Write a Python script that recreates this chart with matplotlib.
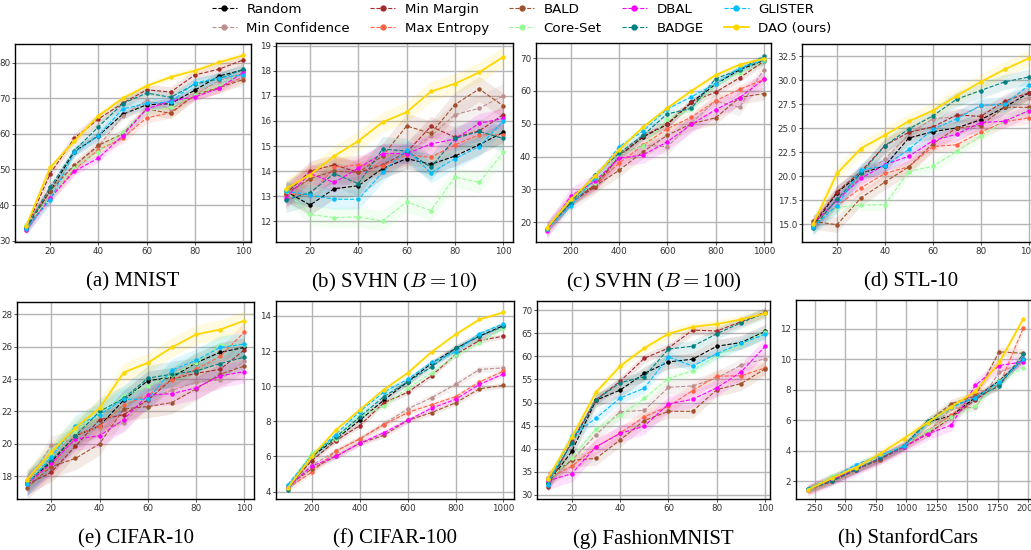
import numpy as np
import matplotlib.pyplot as plt

plt.rcParams['mathtext.fontset'] = 'cm'

methods = ['Random', 'Min Confidence', 'Min Margin', 'Max Entropy', 'BALD',
           'Core-Set', 'DBAL', 'BADGE', 'GLISTER', 'DAO (ours)']
colors = ['black', 'rosybrown', 'brown', 'tomato', 'sienna',
          'palegreen', 'magenta', 'teal', 'deepskyblue', 'gold']

x_small = [10, 20, 30, 40, 50, 60, 70, 80, 90, 100]
x_large = [100, 200, 300, 400, 500, 600, 700, 800, 900, 1000]
x_cars = [196, 392, 588, 784, 980, 1176, 1372, 1568, 1764, 1960]

# one row per method, same order as `methods`
mnist = [
    [33.5, 44, 55, 59.5, 65.5, 68.2, 68.5, 72.3, 76.3, 78],
    [34, 45, 51, 56.5, 65, 69.5, 67, 71, 75, 77],
    [33.5, 48.8, 58.8, 64.2, 68.6, 72.4, 71.8, 76.6, 78.2, 80.8],
    [33, 42, 50, 55.5, 58.8, 64.5, 66, 71, 73, 76],
    [33.8, 44, 51.2, 56.8, 60, 67, 65.8, 71, 73, 75.3],
    [34.5, 42, 50.5, 55, 60.5, 66.5, 67.5, 71, 73.5, 77.5],
    [33, 42, 49.5, 53.2, 59.5, 67, 69.3, 70.4, 72.8, 77.3],
    [33.5, 45, 55.3, 62, 68.5, 71.5, 70.3, 74, 75.5, 78.2],
    [33.2, 41.5, 54.8, 59.5, 67, 68.6, 69, 74.3, 75.8, 76.6],
    [34, 50.6, 58, 65.1, 70, 73.5, 76, 77.8, 80.1, 82.1],
]
mnist_std = [1.2, 1.2, 1.5, 1.5, 1.5, 1.0, 1.2, 1.5, 1.5, 1.0]

svhn10 = [
    [13.2, 12.65, 13.3, 13.42, 14.1, 14.5, 14.27, 14.6, 15.05, 15.55],
    [13.0, 13.7, 14.05, 14.05, 14.6, 14.7, 15.4, 16.25, 16.5, 17.0],
    [13.1, 14.0, 14.25, 13.95, 14.25, 14.75, 15.78, 15.35, 15.6, 16.25],
    [13.1, 13.05, 14.15, 14.25, 14.2, 14.65, 14.55, 15.05, 15.45, 15.45],
    [13.1, 13.7, 14.0, 13.95, 14.6, 15.8, 15.5, 16.65, 17.27, 16.6],
    [13.2, 12.28, 12.15, 12.18, 12.02, 12.78, 12.43, 13.77, 13.55, 14.75],
    [12.95, 13.9, 13.55, 14.12, 14.7, 14.7, 15.08, 15.28, 15.9, 16.1],
    [12.85, 13.15, 13.9, 13.5, 14.88, 14.8, 14.15, 15.3, 15.58, 15.3],
    [13.2, 13.05, 12.88, 12.88, 13.95, 14.85, 13.93, 14.5, 14.98, 16.0],
    [13.3, 13.86, 14.6, 15.2, 15.95, 16.35, 17.17, 17.48, 17.93, 18.55],
]
svhn10_std = [0.4, 0.5, 0.4, 0.4, 0.5, 0.4, 0.4, 0.5, 0.4, 0.4]

svhn100 = [
    [18, 26, 31.5, 40.2, 46, 49.8, 56.5, 62, 66.5, 69.2],
    [18, 26, 31, 40.5, 43.5, 43, 50.2, 57, 55, 66.5],
    [18, 26, 30.8, 40, 46.2, 50, 56.7, 59.6, 64, 69],
    [18, 26.5, 31.5, 38, 43.5, 48.5, 52, 57, 60.5, 63.5],
    [18, 27, 31, 35.8, 41.5, 46.5, 50, 51.8, 58, 59.2],
    [18, 26.5, 32, 40.5, 43.2, 51.5, 54.5, 62, 65.5, 69],
    [17.3, 28, 32.5, 39.5, 40.5, 44.5, 49.8, 54.3, 58, 63.5],
    [18, 26, 34.5, 41, 46.5, 53, 54.7, 63.7, 66.5, 70.5],
    [18, 25, 33.5, 43, 47.8, 54.5, 58.2, 62.2, 67, 69.3],
    [18.2, 27, 34, 42.1, 49, 54.8, 60, 64.8, 68, 69.8],
]
svhn100_std = [1.0, 2.5, 1.2, 1.5, 2.0, 1.2, 2.5, 1.0, 1.0, 0.8]

stl10 = [
    [14.8, 18.3, 20.3, 21.1, 24.0, 24.65, 25.05, 25.9, 27.2, 28.7],
    [15.2, 17.5, 20.0, 21.8, 24.4, 26.0, 26.2, 27.3, 27.6, 28.2],
    [15.0, 18.4, 20.5, 23.2, 24.6, 25.15, 26.4, 26.25, 27.85, 28.7],
    [14.9, 16.9, 18.8, 20.3, 21.0, 23.1, 23.3, 24.6, 25.7, 26.1],
    [15.3, 14.95, 17.75, 19.4, 21.0, 23.4, 25.05, 25.3, 27.2, 27.2],
    [15.0, 16.75, 17.0, 17.05, 20.5, 21.05, 22.6, 24.2, 25.75, 26.9],
    [15.0, 17.5, 19.8, 21.2, 22.1, 23.7, 24.4, 25.6, 25.75, 26.85],
    [14.65, 17.6, 20.3, 23.2, 24.95, 26.3, 28.05, 28.95, 29.85, 30.35],
    [14.7, 16.95, 20.65, 21.1, 22.8, 24.9, 26.0, 27.4, 27.5, 29.5],
    [15.0, 20.3, 22.9, 24.3, 25.75, 26.85, 28.4, 29.85, 31.15, 32.3],
]
stl10_std = [0.7, 0.7, 0.7, 0.6, 0.8, 0.6, 0.7, 0.8, 0.8, 0.8]

cifar10 = [
    [17.6, 18.9, 20.5, 21.1, 22.7, 23.9, 24.1, 25.0, 25.65, 25.95],
    [17.6, 19.9, 20.3, 21.0, 21.3, 22.8, 23.3, 23.8, 23.95, 25.1],
    [17.5, 18.25, 19.85, 21.5, 21.8, 22.7, 24.0, 24.35, 24.6, 25.8],
    [17.8, 18.6, 20.5, 21.1, 22.4, 23.0, 23.95, 24.6, 25.4, 26.9],
    [17.3, 18.6, 19.1, 20.0, 22.15, 22.3, 22.55, 23.4, 24.3, 24.8],
    [17.6, 19.3, 20.8, 21.9, 22.95, 23.55, 24.25, 25.0, 26.1, 26.1],
    [17.5, 18.8, 20.3, 20.5, 21.5, 23.0, 23.1, 23.45, 24.2, 24.45],
    [17.6, 19.0, 20.5, 22.0, 22.8, 24.05, 24.3, 24.5, 24.95, 25.35],
    [17.5, 19.2, 21.1, 21.8, 22.75, 22.75, 24.55, 25.15, 25.95, 26.15],
    [17.8, 19.5, 21.0, 22.2, 24.4, 25.0, 25.95, 26.75, 27.05, 27.6],
]
cifar10_std = [0.6, 0.6, 0.6, 0.6, 0.7, 0.7, 0.7, 0.8, 0.7, 0.6]

cifar100 = [
    [4.3, 6.0, 7.0, 8.05, 9.2, 10.25, 11.3, 12.15, 12.85, 13.45],
    [4.3, 5.5, 6.3, 7.0, 7.85, 8.7, 9.35, 10.1, 10.95, 11.05],
    [4.3, 5.75, 6.9, 7.75, 9.05, 9.65, 10.6, 11.8, 12.6, 12.85],
    [4.2, 5.1, 6.3, 7.0, 7.8, 8.5, 8.95, 9.4, 10.25, 10.85],
    [4.3, 5.3, 6.0, 6.75, 7.2, 8.05, 8.5, 9.05, 9.85, 10.05],
    [4.3, 6.2, 7.0, 8.3, 8.85, 9.9, 10.75, 11.75, 12.45, 13.3],
    [4.25, 5.45, 6.0, 6.75, 7.35, 8.05, 8.75, 9.25, 10.1, 10.7],
    [4.1, 6.05, 7.1, 8.25, 9.4, 10.25, 11.1, 12.15, 12.85, 13.4],
    [4.4, 6.05, 7.25, 8.55, 9.65, 10.4, 11.35, 11.95, 13.0, 13.55],
    [4.2, 6.0, 7.5, 8.65, 9.8, 10.75, 11.95, 12.95, 13.8, 14.2],
]
cifar100_std = [0.2, 0.2, 0.15, 0.15, 0.15, 0.15, 0.15, 0.2, 0.15, 0.1]

fmnist = [
    [32.5, 39.4, 50.5, 52.7, 56.3, 58.8, 59.4, 62.2, 63.0, 65.4],
    [33, 37.5, 43.0, 48.0, 48.3, 53.3, 53.6, 55.3, 58.1, 59.5],
    [31.6, 41.6, 50.6, 54.6, 59.6, 61.8, 65.7, 65.5, 67.5, 69.6],
    [33.5, 36.2, 40.4, 43.4, 46.9, 49.2, 52.6, 55.7, 55.8, 57.5],
    [33.7, 37.5, 37.9, 41.9, 46.1, 48.1, 48.1, 52.8, 54.1, 57.3],
    [33, 38, 44.3, 47.2, 50.9, 55.2, 56.9, 60.2, 62.6, 65.3],
    [33, 34.6, 40.4, 43.3, 44.9, 49.7, 50.7, 53.2, 56.6, 62.2],
    [32.5, 41.2, 50.6, 54.3, 55.6, 61.6, 62.2, 64.9, 67.3, 69.4],
    [32.2, 42.8, 46.6, 51.0, 53.1, 59.9, 57.9, 60.6, 62.8, 64.8],
    [33.5, 42.5, 52.2, 57.9, 61.8, 64.9, 66.4, 67.0, 68.0, 69.3],
]
fmnist_std = [1.5, 1.5, 1.0, 1.5, 1.5, 1.0, 1.8, 1.2, 1.2, 1.0]

cars = [
    [1.5, 2.1, 2.8, 3.5, 4.3, 5.9, 6.3, 7.5, 8.6, 10.0],
    [1.45, 2.2, 2.8, 3.5, 4.3, 5.2, 6.8, 6.85, 9.15, 9.8],
    [1.45, 2.0, 2.75, 3.45, 4.25, 5.1, 6.2, 7.35, 8.4, 10.05],
    [1.4, 2.1, 2.8, 3.5, 4.3, 5.3, 6.35, 7.7, 8.3, 12.05],
    [1.45, 2.1, 2.8, 3.4, 4.3, 5.9, 7.1, 7.6, 10.5, 10.4],
    [1.45, 2.35, 2.9, 3.6, 4.35, 5.3, 6.2, 6.95, 8.6, 9.45],
    [1.45, 2.1, 2.75, 3.5, 4.25, 5.1, 5.7, 8.3, 9.6, 9.85],
    [1.5, 2.0, 2.75, 3.5, 4.3, 5.95, 6.9, 7.5, 8.25, 10.35],
    [1.5, 2.2, 3.1, 3.7, 4.3, 5.8, 6.85, 7.5, 8.5, 10.0],
    [1.45, 2.2, 2.9, 3.8, 4.8, 5.85, 6.9, 7.9, 9.8, 12.65],
]
cars_std = [0.2, 0.3, 0.2, 0.3, 0.3, 0.2, 0.4, 0.25, 0.2, 0.3]

W, H = 1031, 550
fig = plt.figure(figsize=(W / 100, H / 100), dpi=100)


def ax_at(l, t, r, b):
    return fig.add_axes([l / W, 1 - b / H, (r - l) / W, (b - t) / H])


panels = [
    # x, data, std, box (l, t, r, b) in px, xlim, ylim, xticks, yticks, caption
    (x_small, mnist, mnist_std, (15, 44, 251, 242), (5.4, 103.3), (29.6, 85.3),
     [20, 40, 60, 80, 100], [30, 40, 50, 60, 70, 80], '(a) MNIST'),
    (x_small, svhn10, svhn10_std, (276, 43, 513, 242), (5.9, 104), (11.18, 19.1),
     [20, 40, 60, 80, 100], [12, 13, 14, 15, 16, 17, 18, 19], r'(b) SVHN ($B = 10$)'),
    (x_large, svhn100, svhn100_std, (536, 43, 771, 242), (56, 1030), (14, 74.6),
     [200, 400, 600, 800, 1000], [20, 30, 40, 50, 60, 70], r'(c) SVHN ($B = 100$)'),
    (x_small, stl10, stl10_std, (802, 44, 1037, 242), (5.4, 103.5), (13.15, 33.8),
     [20, 40, 60, 80, 100], [15.0, 17.5, 20.0, 22.5, 25.0, 27.5, 30.0, 32.5], '(d) STL-10'),
    (x_small, cifar10, cifar10_std, (17, 302, 254, 499), (5.8, 104), (16.6, 28.75),
     [20, 40, 60, 80, 100], [18, 20, 22, 24, 26, 28], '(e) CIFAR-10'),
    (x_large, cifar100, cifar100_std, (276, 301, 514, 499), (51, 1044), (3.58, 14.85),
     [200, 400, 600, 800, 1000], [4, 6, 8, 10, 12, 14], '(f) CIFAR-100'),
    (x_small, fmnist, fmnist_std, (537, 301, 770, 499), (5.6, 102), (29.1, 72),
     [20, 40, 60, 80, 100], [30, 35, 40, 45, 50, 55, 60, 65, 70], '(g) FashionMNIST'),
    (x_cars, cars, cars_std, (796, 300, 1036, 499), (98, 2065), (0.84, 13.9),
     [250, 500, 750, 1000, 1250, 1500, 1750, 2000], [2, 4, 6, 8, 10, 12], '(h) StanfordCars'),
]

handles = []
for xs, data, std, box, xl, yl, xt, yt, cap in panels:
    ax = ax_at(*box)
    for k in range(len(methods)):
        y = np.array(data[k])
        ours = k == len(methods) - 1
        ax.fill_between(xs, y - std[k], y + std[k], color=colors[k],
                        alpha=0.12, lw=0)
        ln, = ax.plot(xs, y, color=colors[k], lw=1.3 if ours else 0.8,
                      ls='-' if ours else '--', marker='o', ms=2.2,
                      label=methods[k])
        if len(handles) < len(methods):
            handles.append(ln)
    ax.set_xlim(*xl)
    ax.set_ylim(*yl)
    ax.set_xticks(xt)
    ax.set_yticks(yt)
    ax.grid(True, color='#b5b5b5', lw=1.0)
    ax.set_axisbelow(True)
    ax.tick_params(labelsize=6.3, length=2, width=0.6, pad=1.5,
                   colors='#333333')
    for s in ax.spines.values():
        s.set_linewidth(1.0)
        s.set_color('black')
    cx = (box[0] + min(box[2], 1020)) / 2 / W
    cy = 1 - (box[3] + 40) / H
    fig.text(cx, cy, cap, ha='center', va='center', fontsize=15,
             family='Liberation Serif')

fig.legend(handles, methods, loc='upper center', bbox_to_anchor=(0.506, 1.017),
           ncol=5, frameon=False, fontsize=9.6, handlelength=1.9,
           columnspacing=1.5, labelspacing=0.45, handletextpad=0.7,
           markerscale=1.6)

fig.savefig('out.png', dpi=100)
